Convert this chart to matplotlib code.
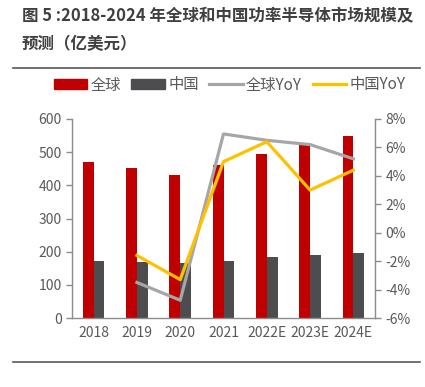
import matplotlib
matplotlib.use("Agg")
import matplotlib.pyplot as plt
import numpy as np
from matplotlib.patches import Patch
from matplotlib.lines import Line2D

plt.rcParams['font.family'] = ['Noto Sans CJK SC', 'DejaVu Sans']

categories = ["2018", "2019", "2020", "2021", "2022E", "2023E", "2024E"]
global_vals = [470, 453, 432, 462, 493, 521, 550]
china_vals = [173, 170, 165, 173, 184, 189, 197]
global_yoy = [None, -3.5, -4.75, 6.95, 6.5, 6.2, 5.2]
china_yoy = [None, -1.6, -3.3, 5.0, 6.4, 3.0, 4.4]

red = "#C00000"
dgray = "#4D4D4F"
lgray = "#A6A6A6"
yellow = "#FFC000"
txt = "#595959"
spine_c = "#8C8C8C"

fig = plt.figure(figsize=(4.25, 3.87), dpi=100)
ax = fig.add_axes([72/425, 1-318/387, (375-72)/425, (318-119)/387])
x = np.arange(len(categories))
w = 0.25
ax.bar(x - w/2, global_vals, width=w, color=red, zorder=2)
ax.bar(x + w/2, china_vals, width=w, color=dgray, zorder=2)
ax.set_xlim(-0.5, len(categories) - 0.5)
ax.set_ylim(0, 600)
ax.set_yticks(range(0, 601, 100))
ax.set_xticks(x)
ax.set_xticklabels(categories)

ax2 = ax.twinx()
xs = x[1:]
ax2.plot(xs, [v for v in global_yoy[1:]], color=lgray, lw=2.3, zorder=3)
ax2.plot(xs, [v for v in china_yoy[1:]], color=yellow, lw=2.3, zorder=4)
ax2.set_ylim(-6, 8)
ax2.set_yticks(range(-6, 9, 2))
ax2.set_yticklabels([f"{v}%" for v in range(-6, 9, 2)])

for a in (ax, ax2):
    a.spines['top'].set_visible(False)
    for s in ('left', 'right', 'bottom'):
        a.spines[s].set_color(spine_c)
        a.spines[s].set_linewidth(1.0)
    a.tick_params(axis='both', colors=txt, labelsize=10, length=4, width=1, color=spine_c)
ax.tick_params(axis='x', length=0, pad=6)
ax.spines['right'].set_visible(False)
ax2.spines['left'].set_visible(False)
ax2.spines['bottom'].set_visible(False)

handles = [Patch(color=red), Patch(color=dgray),
           Line2D([], [], color=lgray, lw=2.3), Line2D([], [], color=yellow, lw=2.3)]
labels = ["全球", "中国", "全球YoY", "中国YoY"]
fig.legend(handles, labels, loc='center', bbox_to_anchor=(0.54, 1-85/387), ncol=4,
           frameon=False, fontsize=11, labelcolor=txt, handlelength=2.2, handleheight=0.6,
           handletextpad=0.2, columnspacing=0.7)

fig.text(22/425, 1-16/387, "图 5 :2018-2024 年全球和中国功率半导体市场规模及", fontsize=11.9,
         fontweight='bold', color="#404040", va='center', ha='left')
fig.text(22/425, 1-44/387, "预测（亿美元）", fontsize=11.9,
         fontweight='bold', color="#404040", va='center', ha='left')

for yy in (68, 362):
    fig.add_artist(Line2D([13/425, 420/425], [1-yy/387, 1-yy/387], color="#595959", lw=1.2,
                          transform=fig.transFigure))

fig.savefig("out.png", dpi=100)
